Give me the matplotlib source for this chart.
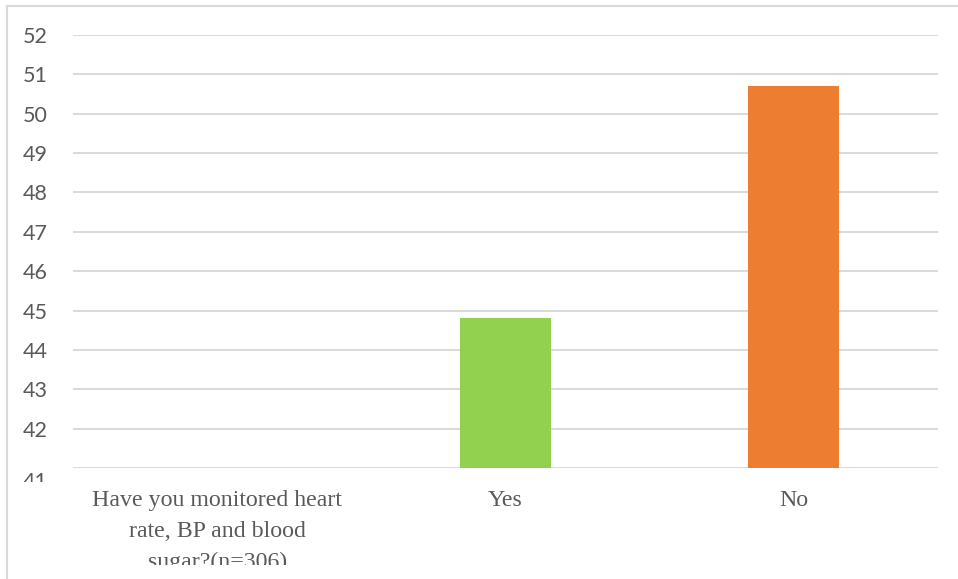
import matplotlib
matplotlib.use("Agg")
import matplotlib.pyplot as plt
import matplotlib.transforms as mtransforms
from matplotlib.patches import Rectangle
from matplotlib.lines import Line2D

categories = ["Have you monitored heart\nrate, BP and blood\nsugar?(n=306)", "Yes", "No"]
values = [None, 44.8, 50.7]
colors = [None, "#92d050", "#ed7d31"]
yticks = list(range(41, 53))

W, H = 958, 579
fig = plt.figure(figsize=(W / 100, H / 100), dpi=100)
ax = fig.add_axes([73 / W, 1 - 468 / H, (938 - 73) / W, (468 - 35) / H])

x = list(range(len(categories)))
for xi, v, c in zip(x, values, colors):
    if v is not None:
        ax.bar(xi, v - 41, bottom=41, width=0.316, color=c, zorder=3)

ax.set_xlim(-0.5, len(categories) - 0.5)
ax.set_ylim(41, 52)
ax.set_yticks(yticks)
ylab_kw = dict(fontfamily="Lato", fontsize=15.5, color="#595959")
ax.set_yticklabels(["" if t == yticks[0] else str(t) for t in yticks], **ylab_kw)
ax.set_xticks(x)
ax.set_xticklabels(categories, fontfamily="Liberation Serif", fontsize=17.2, color="#595959",
                   linespacing=1.6, va="top")
ax.tick_params(axis="y", length=0, pad=18)
ax.tick_params(axis="x", length=0, pad=16)
for s in ax.spines.values():
    s.set_visible(False)
ax.yaxis.grid(True, color="#d9d9d9", linewidth=1.4, zorder=0)
ax.set_axisbelow(True)

# lowest tick label, drawn lower and cut off as in the reference
off = mtransforms.ScaledTranslation(0, -14 / 100, fig.dpi_scale_trans)
ax.text(-25 / 865, yticks[0], str(yticks[0]), ha="right", va="center",
        transform=ax.get_yaxis_transform() + off, **ylab_kw)

# clipping of bottom content
fig.patches.append(Rectangle((8 / W, 0), 1, 14 / H, transform=fig.transFigure,
                             facecolor="white", edgecolor="none", zorder=10))
fig.patches.append(Rectangle((15 / W, 1 - 505 / H), 55 / W, 23 / H, transform=fig.transFigure,
                             facecolor="white", edgecolor="none", zorder=10))
# outer border
fig.lines.append(Line2D([7 / W, 7 / W], [0, 1 - 6 / H], transform=fig.transFigure,
                        color="#d9d9d9", linewidth=1.5, zorder=11))
fig.lines.append(Line2D([7 / W, 1], [1 - 6 / H, 1 - 6 / H], transform=fig.transFigure,
                        color="#d9d9d9", linewidth=1.5, zorder=11))

fig.savefig("out.png", dpi=100)
